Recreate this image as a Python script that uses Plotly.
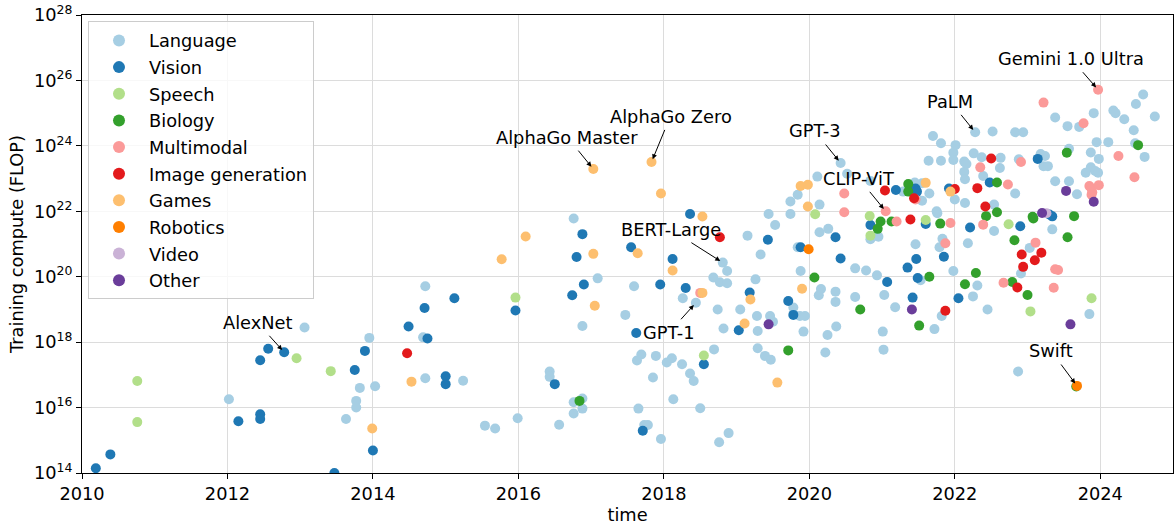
import math
import plotly.graph_objects as go

# ---------------- data: (year, training compute in FLOP) ----------------
language = [
    (2012.02, 1.8e16), (2013.06, 2.8e18), (2013.63, 4.5e15), (2013.82, 4.0e16), (2013.77, 1.6e16),
    (2013.77, 1.0e16), (2013.95, 1.35e18), (2014.03, 4.5e16), (2014.72, 5.1e19), (2014.69, 1.4e18),
    (2014.72, 7.9e16), (2015.24, 6.6e16), (2015.54, 2.8e15), (2015.68, 2.3e15), (2015.99, 4.7e15),
    (2016.76, 6.0e21), (2017.09, 8.9e19), (2017.59, 5.1e19), (2016.88, 3.1e18), (2017.47, 6.8e18),
    (2017.69, 4.2e17), (2017.63, 2.75e17), (2017.89, 3.8e17), (2017.85, 8.3e16), (2018.04, 2.4e17),
    (2016.43, 1.26e17), (2016.43, 8.7e16), (2016.76, 1.45e16), (2016.88, 1.9e16), (2016.76, 6.6e15),
    (2016.88, 9.3e15), (2016.56, 3.0e15), (2017.65, 9.3e15), (2017.73, 2.95e15), (2017.78, 2.95e15),
    (2017.96, 1.1e15),
    (2019.15, 1.8e21), (2019.44, 8.3e21), (2019.53, 3.8e21), (2019.74, 8.3e21), (2019.74, 2.0e22),
    (2019.84, 3.2e22), (2019.33, 4.8e20), (2019.84, 8.0e20), (2018.81, 2.7e20), (2018.87, 1.5e20),
    (2018.68, 9.5e19), (2018.77, 6.8e19), (2018.87, 6.3e19), (2019.26, 8.3e19), (2019.88, 1.5e20),
    (2018.26, 2.2e19), (2018.44, 1.6e19), (2019.78, 1.15e19), (2019.87, 6.3e18), (2018.74, 1.0e19),
    (2019.05, 1.0e19), (2019.28, 6.3e18), (2019.46, 6.3e18), (2019.50, 4.2e18), (2018.82, 2.6e18),
    (2019.29, 2.2e18), (2019.92, 2.1e18), (2018.11, 3.2e17), (2018.25, 2.1e17), (2018.69, 6.0e17),
    (2018.36, 1.1e17), (2018.41, 6.5e16), (2019.29, 6.5e17), (2019.39, 3.8e17), (2019.47, 2.9e17),
    (2018.13, 1.8e16), (2018.50, 9.5e15), (2018.76, 8.7e14), (2018.89, 1.66e15),
    (2020.43, 3.0e23), (2020.11, 1.15e23), (2020.52, 1.4e23), (2020.84, 8.5e22), (2020.14, 1.6e22),
    (2020.14, 2.3e21), (2020.26, 2.9e21), (2020.63, 1.8e20), (2020.78, 1.55e20), (2020.93, 1.1e20),
    (2020.16, 4.2e19), (2020.13, 2.7e19), (2020.36, 3.5e19), (2020.63, 2.4e19), (2021.03, 2.75e19),
    (2021.46, 9.8e20), (2021.53, 7.8e19), (2020.84, 1.4e21), (2020.95, 1.66e21), (2021.45, 7.6e22),
    (2021.55, 2.1e22), (2021.55, 7.2e22), (2021.64, 3.5e23), (2021.65, 3.5e22), (2021.70, 2.0e24),
    (2021.81, 1.2e24), (2021.81, 3.5e23), (2021.98, 6.2e23), (2022.01, 1.05e24), (2021.98, 3.7e23),
    (2022.00, 2.3e22), (2022.14, 1.8e22), (2022.13, 3.3e23), (2022.16, 2.8e23), (2022.13, 1.6e23),
    (2022.14, 9.5e22), (2022.26, 5.9e23), (2022.28, 2.6e24), (2022.52, 2.75e24), (2022.37, 4.5e23),
    (2022.39, 1.2e23), (2022.63, 4.3e23), (2022.62, 2.1e23), (2022.83, 3.5e22), (2022.83, 2.6e24),
    (2022.94, 2.6e24), (2022.88, 3.9e23), (2023.18, 5.6e23), (2023.24, 4.9e23), (2023.22, 2.4e23),
    (2023.28, 2.4e23), (2023.38, 7.4e24), (2023.55, 4.0e24), (2023.71, 3.8e24), (2023.57, 8.1e23),
    (2023.38, 8.3e22), (2023.57, 8.3e22), (2023.68, 3.3e22), (2023.91, 1.0e25), (2023.87, 6.3e23),
    (2023.98, 4.0e23), (2023.95, 1.3e24), (2024.11, 1.3e24), (2024.61, 4.6e23), (2024.18, 1.2e25),
    (2024.21, 1.0e25), (2024.33, 6.5e24), (2024.46, 3.0e24), (2024.49, 1.9e25), (2024.59, 3.7e25),
    (2024.75, 7.9e24), (2024.48, 1.2e24), (2023.80, 1.5e23), (2023.87, 2.2e23), (2023.93, 1.7e23),
    (2023.97, 1.5e23), (2023.34, 2.8e21), (2023.85, 7.2e18), (2022.54, 1.6e22), (2021.76, 8.7e21),
    (2022.54, 2.5e21), (2023.03, 7.6e20), (2022.91, 1.26e20), (2021.83, 1.45e21), (2021.79, 8.0e20),
    (2022.18, 1.05e21), (2021.98, 1.5e20), (2022.31, 5.4e19), (2022.25, 2.5e19), (2021.82, 6.3e18),
    (2021.72, 2.5e18), (2022.45, 1.0e19), (2022.87, 1.26e17), (2020.36, 1.7e19), (2020.37, 3.0e18),
    (2020.25, 1.66e18), (2020.22, 4.8e17), (2019.94, 6.3e18), (2021.18, 1.17e19), (2021.01, 2.1e18),
    (2021.02, 5.9e17), (2021.29, 4.0e22), (2021.75, 1.0e22),
]

vision = [
    (2010.19, 1.4e14), (2010.39, 3.7e14), (2012.15, 3.8e15), (2012.45, 6.2e15), (2012.45, 4.5e15),
    (2012.45, 2.8e17), (2012.56, 6.3e17), (2012.78, 4.9e17), (2013.47, 1.0e14), (2013.75, 1.4e17),
    (2013.89, 5.4e17), (2014.00, 4.9e14), (2015.12, 2.2e19), (2015.96, 9.3e18), (2014.71, 1.1e19),
    (2014.49, 3.0e18), (2014.75, 1.3e18), (2015.00, 9.1e16), (2015.00, 5.2e16), (2016.88, 2.0e21),
    (2016.80, 4.0e20), (2017.55, 8.0e20), (2016.90, 5.8e19), (2016.74, 2.7e19), (2017.95, 5.8e19),
    (2017.62, 1.9e18), (2016.50, 5.2e16), (2017.71, 1.95e15), (2018.36, 8.3e21), (2019.43, 1.35e21),
    (2019.88, 8.0e20), (2018.12, 3.5e20), (2018.30, 4.5e19), (2019.18, 3.3e19), (2019.71, 1.8e19),
    (2019.78, 6.8e18), (2019.03, 2.3e18), (2018.55, 2.1e17), (2020.36, 1.6e21), (2020.43, 3.6e20),
    (2021.07, 6.9e19), (2021.35, 1.9e20), (2021.47, 3.5e20), (2021.49, 9.1e19), (2021.42, 2.3e19),
    (2021.19, 4.5e22), (2020.84, 3.8e21), (2021.60, 4.1e21), (2021.46, 5.0e22), (2021.48, 4.0e22),
    (2021.92, 5.0e22), (2022.48, 7.6e22), (2023.14, 4.0e23), (2023.30, 8.0e21), (2023.34, 7.0e21),
    (2022.21, 3.2e21), (2022.90, 3.5e21), (2021.85, 4.1e20), (2022.05, 2.2e19),
]

speech = [
    (2010.76, 6.5e16), (2010.76, 3.6e15), (2012.95, 3.2e17), (2013.42, 1.3e17), (2015.96, 2.3e19),
    (2018.55, 3.9e17), (2020.08, 8.1e21), (2020.83, 7.2e21), (2020.84, 1.8e21), (2021.60, 5.4e21),
    (2022.74, 4.0e21), (2023.04, 8.7e18), (2023.88, 2.2e19),
]

biology = [
    (2016.84, 1.6e16), (2019.71, 5.6e17), (2020.07, 9.5e19), (2020.98, 4.9e21), (2020.94, 2.9e21),
    (2021.13, 4.9e21), (2021.36, 6.8e22), (2021.36, 4.0e22), (2021.65, 1.0e20), (2020.70, 1.0e19),
    (2021.51, 3.2e18), (2021.80, 4.2e21), (2022.58, 7.6e22), (2022.43, 7.1e21), (2022.58, 9.3e21),
    (2023.07, 6.8e21), (2023.08, 6.0e21), (2022.82, 1.3e21), (2022.79, 6.9e19), (2023.00, 2.75e19),
    (2022.29, 1.3e20), (2022.14, 5.9e19), (2023.54, 6.2e23), (2024.52, 1.05e24), (2023.64, 7.1e21),
    (2023.55, 1.6e21), (2023.67, 4.4e16),
]

multimodal = [
    (2018.50, 3.2e19), (2020.48, 3.5e22), (2020.48, 9.3e21), (2021.05, 1.0e22), (2021.20, 4.9e21),
    (2021.46, 2.3e22), (2022.35, 2.2e23), (2022.73, 6.6e22), (2022.91, 3.2e23), (2023.22, 2.1e25),
    (2023.77, 4.9e24), (2023.97, 5.2e25), (2024.25, 4.9e23), (2024.47, 1.1e23), (2023.85, 5.9e22),
    (2023.88, 5.0e22), (2023.98, 6.3e22), (2023.89, 3.8e22), (2023.88, 3.2e22), (2021.94, 4.4e21),
    (2022.39, 3.9e21), (2023.11, 1.1e21), (2021.87, 1.05e21), (2022.67, 6.5e19), (2023.36, 4.6e19),
    (2023.38, 1.7e20), (2023.42, 1.6e20),
]

image_generation = [
    (2014.47, 4.6e17), (2018.77, 1.6e21), (2021.04, 4.3e22), (2021.39, 5.6e21), (2021.44, 2.5e22),
    (2022.00, 4.8e22), (2022.31, 5.1e22), (2022.50, 4.1e23), (2022.42, 1.4e22), (2022.92, 4.8e20),
    (2023.19, 5.4e20), (2023.10, 3.2e20), (2022.94, 2.0e20), (2022.86, 4.7e19), (2021.87, 9.1e18),
]

games = [
    (2013.99, 2.3e15), (2016.10, 1.7e21), (2015.77, 3.4e20), (2014.53, 6.2e16), (2017.03, 1.95e23),
    (2017.83, 3.2e23), (2017.96, 3.5e22), (2017.03, 5.0e20), (2017.64, 5.2e20), (2017.05, 1.3e19),
    (2018.53, 6.9e21), (2018.12, 1.55e20), (2018.53, 3.2e19), (2019.19, 2.0e19), (2019.11, 3.7e18),
    (2019.56, 5.8e16), (2019.88, 5.9e22), (2019.98, 6.5e22), (2019.98, 1.4e22), (2019.90, 4.3e19),
    (2021.60, 7.4e22), (2021.94, 4.0e22),
]

robotics = [(2019.99, 6.9e20), (2023.68, 4.6e16)]

video = [(2023.26, 8.7e21)]

other = [
    (2019.44, 3.5e18), (2021.41, 1.0e19), (2023.20, 8.9e21), (2023.53, 4.2e22), (2023.59, 3.5e18),
    (2023.91, 1.95e22),
]

categories = ["Language", "Vision", "Speech", "Biology", "Multimodal",
              "Image generation", "Games", "Robotics", "Video", "Other"]
series = [language, vision, speech, biology, multimodal,
          image_generation, games, robotics, video, other]
colors = ["#a6cee3", "#1f78b4", "#b2df8a", "#33a02c", "#fb9a99",
          "#e31a1c", "#fdbf6f", "#ff7f00", "#cab2d6", "#6a3d9a"]

# tick labels
y_tick_exponents = [14, 16, 18, 20, 22, 24, 26, 28]
x_tick_years = [2010, 2012, 2014, 2016, 2018, 2020, 2022, 2024]

# annotated models: name, year, FLOP
annot_names = ["AlexNet", "AlphaGo Master", "AlphaGo Zero", "BERT-Large", "GPT-1",
               "GPT-3", "CLIP-ViT", "PaLM", "Gemini 1.0 Ultra", "Swift"]
annot_years = [2012.78, 2017.03, 2017.83, 2018.81, 2018.44,
               2020.43, 2021.05, 2022.28, 2023.97, 2023.68]
annot_flop = [4.9e17, 1.95e23, 3.2e23, 2.7e20, 1.6e19,
              3.0e23, 1.0e22, 2.6e24, 5.2e25, 4.6e16]
# label offsets (pixels) relative to the point
annot_dx = [-27, -26, 19, -52, -27, -26, -27, -25, -27, -26]
annot_dy = [-30, -32, -46, -33, 30, -32, -33, -31, -31, -35]

FONT = "DejaVu Sans, Verdana, sans-serif"
FS = 17.8

fig = go.Figure()
for cat, pts, col in zip(categories, series, colors):
    fig.add_trace(go.Scatter(
        x=[p[0] for p in pts], y=[p[1] for p in pts],
        mode="markers", name=cat, legendgroup=cat,
        marker=dict(color=col, size=10, line=dict(width=0)),
    ))

for name, yr, fl, dx, dy in zip(annot_names, annot_years, annot_flop, annot_dx, annot_dy):
    fig.add_annotation(
        x=yr, y=math.log10(fl), xref="x", yref="y", text=name,
        showarrow=True, ax=dx, ay=dy, axref="pixel", ayref="pixel",
        arrowhead=2, arrowsize=1, arrowwidth=1, arrowcolor="black",
        standoff=3, startstandoff=2,
        font=dict(family=FONT, size=FS, color="black"),
    )

axis_common = dict(
    showgrid=True, gridcolor="#dcdcdc", gridwidth=1,
    showline=True, linecolor="black", linewidth=1, mirror=True,
    ticks="outside", ticklen=5, tickcolor="black", zeroline=False,
    tickfont=dict(family=FONT, size=FS, color="black"),
)

fig.update_layout(
    width=1174, height=526,
    margin=dict(l=82, r=1, t=15, b=53),
    paper_bgcolor="white", plot_bgcolor="white",
    font=dict(family=FONT, size=FS, color="black"),
    xaxis=dict(range=[2010, 2025], tickmode="array", tickvals=x_tick_years,
               ticktext=[str(y) for y in x_tick_years],
               title=dict(text="time", standoff=3, font=dict(family=FONT, size=FS)),
               **axis_common),
    yaxis=dict(type="log", range=[14, 28], tickmode="array",
               tickvals=[10.0 ** e for e in y_tick_exponents],
               ticktext=["10<sup>%d</sup>" % e for e in y_tick_exponents],
               ticklabeloverflow="allow",
               title=dict(text="Training compute (FLOP)", standoff=5, font=dict(family=FONT, size=FS)),
               **axis_common),
    legend=dict(x=0.0055, y=0.986, xanchor="left", yanchor="top",
                bgcolor="rgba(255,255,255,0.8)", bordercolor="#cccccc", borderwidth=1,
                font=dict(family=FONT, size=FS, color="black"),
                tracegroupgap=0.5, itemsizing="constant", itemwidth=50),
    showlegend=True,
)

fig.write_html("out.html", config={"displayModeBar": False},
               post_script="document.body.style.margin='0px';")
